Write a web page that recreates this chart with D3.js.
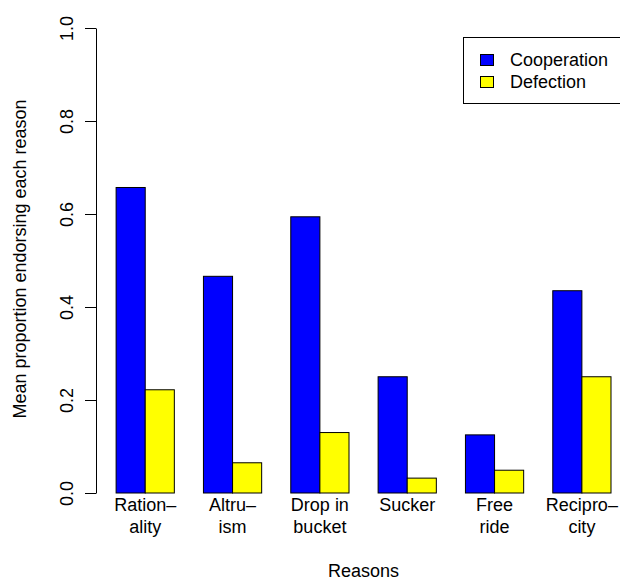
<!DOCTYPE html>
<html>
<head>
<meta charset="utf-8">
<script src="https://cdn.jsdelivr.net/npm/d3@7"></script>
<style>
  body { margin: 0; background: #fff; }
  text { font-family: "Liberation Sans", Arial, sans-serif; }
</style>
</head>
<body>
<svg id="chart" width="620" height="580"></svg>
<script>
// data
const reasons = [["Ration\u2013", "ality"], ["Altru\u2013", "ism"], ["Drop in", "bucket"], ["Sucker"], ["Free", "ride"], ["Recipro\u2013", "city"]];
const cooperation = [0.657, 0.466, 0.594, 0.250, 0.125, 0.435];
const defection = [0.222, 0.065, 0.130, 0.032, 0.049, 0.250];
const series = ["Cooperation", "Defection"];
const colors = ["#0000ff", "#ffff00"];
const yTicks = [0, 0.2, 0.4, 0.6, 0.8, 1.0];

const fs = 18;
const svg = d3.select("#chart");

// R style barplot: each group 2 bars of width 1, gap of 1 before it
const x = d3.scaleLinear().domain([0, 18]).range([87, 611]);
const y = d3.scaleLinear().domain([0, 1]).range([493, 28]);

// Y axis
const yAxis = svg.append("g")
  .attr("transform", "translate(96,0)")
  .call(d3.axisLeft(y).tickValues(yTicks).tickFormat(d3.format(".1f")).tickSize(11).tickSizeOuter(0));
yAxis.select(".domain").attr("stroke", "#000");
yAxis.selectAll(".tick line").attr("stroke", "#000");
yAxis.selectAll(".tick text")
  .attr("font-size", fs)
  .attr("fill", "#000")
  .attr("x", 0).attr("dy", 0)
  .attr("text-anchor", "middle")
  .attr("transform", "translate(-23,0) rotate(-90)");

// Bars
reasons.forEach((r, i) => {
  const vals = [cooperation[i], defection[i]];
  vals.forEach((v, j) => {
    const x0 = i * 3 + 1 + j;
    svg.append("rect")
      .attr("x", x(x0))
      .attr("y", y(v))
      .attr("width", x(x0 + 1) - x(x0))
      .attr("height", y(0) - y(v))
      .attr("fill", colors[j])
      .attr("stroke", "#000")
      .attr("stroke-width", 1);
  });

  // category labels
  const lab = svg.append("text")
    .attr("x", x(i * 3 + 2))
    .attr("y", 511)
    .attr("text-anchor", "middle")
    .attr("font-size", fs)
    .attr("fill", "#000");
  r.forEach((line, k) => {
    lab.append("tspan").attr("x", x(i * 3 + 2)).attr("dy", k === 0 ? 0 : 22).text(line);
  });
});

// Axis titles
svg.append("text")
  .attr("x", x(9.5)).attr("y", 577)
  .attr("text-anchor", "middle")
  .attr("font-size", fs)
  .text("Reasons");

svg.append("text")
  .attr("transform", "translate(26,259) rotate(-90)")
  .attr("text-anchor", "middle")
  .attr("font-size", fs)
  .text("Mean proportion endorsing each reason");

// Legend
const leg = svg.append("g");
leg.append("rect")
  .attr("x", 463.5).attr("y", 37.5)
  .attr("width", 170).attr("height", 66)
  .attr("fill", "#fff").attr("stroke", "#000");
series.forEach((s, i) => {
  leg.append("rect")
    .attr("x", 480.5).attr("y", 54.5 + i * 22)
    .attr("width", 13).attr("height", 11)
    .attr("fill", colors[i]).attr("stroke", "#000");
  leg.append("text")
    .attr("x", 510).attr("y", 66 + i * 22)
    .attr("font-size", fs)
    .text(s);
});
</script>
</body>
</html>
